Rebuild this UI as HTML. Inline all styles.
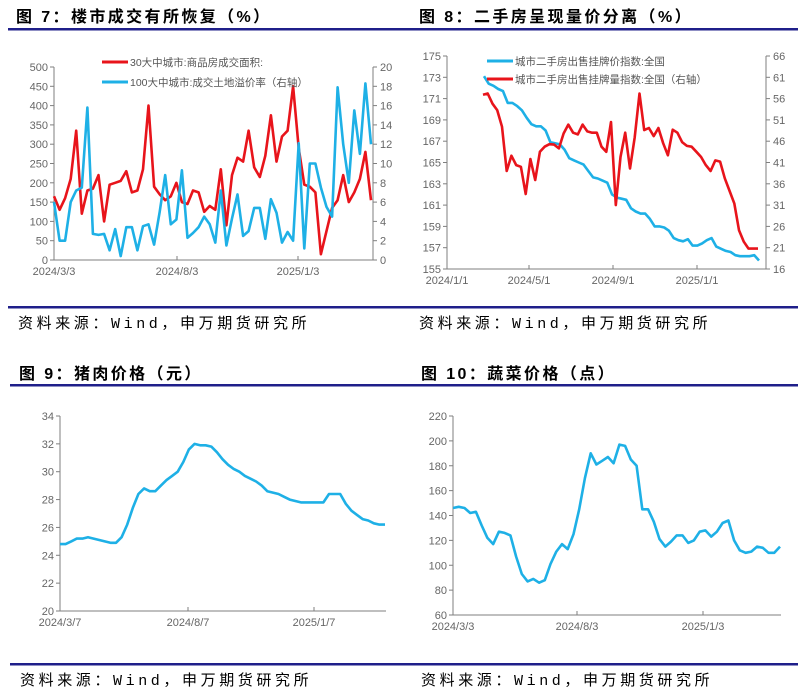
<!DOCTYPE html>
<html><head><meta charset="utf-8">
<style>
html,body{margin:0;padding:0;background:#fff;}
svg{display:block;}
.t{font-family:"Liberation Sans","Noto Sans CJK SC",sans-serif;font-weight:bold;font-size:16px;fill:#000;letter-spacing:2.4px;}
.s{font-family:"Liberation Mono","Noto Sans CJK SC",monospace;font-size:15px;fill:#000;letter-spacing:3.6px;}
.tk{font-family:"Liberation Sans",sans-serif;font-size:11px;fill:#666;}
.lg{font-family:"Liberation Sans","Noto Sans CJK SC",sans-serif;font-size:10.5px;fill:#555;}
</style></head>
<body>
<svg id="c" width="809" height="698" xmlns="http://www.w3.org/2000/svg">
<text class="t" x="16" y="22">图 7：楼市成交有所恢复（%）</text>
<text class="t" x="419" y="22">图 8：二手房呈现量价分离（%）</text>
<text class="t" x="19" y="379">图 9：猪肉价格（元）</text>
<text class="t" x="421" y="379">图 10：蔬菜价格（点）</text>
<rect x="8" y="28" width="397" height="2.5" fill="#1f1f8a"/>
<rect x="405" y="28" width="393" height="2.5" fill="#1f1f8a"/>
<rect x="10" y="384" width="395" height="2.5" fill="#1f1f8a"/>
<rect x="405" y="384" width="393" height="2.5" fill="#1f1f8a"/>
<rect x="8" y="306" width="397" height="2.5" fill="#1f1f8a"/>
<rect x="405" y="306" width="393" height="2.5" fill="#1f1f8a"/>
<rect x="10" y="663" width="395" height="2.5" fill="#1f1f8a"/>
<rect x="405" y="663" width="393" height="2.5" fill="#1f1f8a"/>
<text class="s" x="18" y="328">资料来源：Wind，申万期货研究所</text>
<text class="s" x="419" y="328">资料来源：Wind，申万期货研究所</text>
<text class="s" x="20" y="685">资料来源：Wind，申万期货研究所</text>
<text class="s" x="421" y="685">资料来源：Wind，申万期货研究所</text>
</svg>
<script>
// Fig 7 data
const f7Red = [165,130,160,210,335,120,180,185,220,100,195,200,205,230,175,180,235,400,190,170,155,165,200,150,145,180,175,125,140,130,235,90,220,265,255,335,240,215,270,375,255,320,335,450,290,195,190,175,15,75,135,155,220,150,175,210,280,155];
const f7Blue = [6,2,2,6,7.2,7.5,15.8,2.7,2.6,2.7,1,3.2,0.4,3.4,3.4,1,3.5,3.7,1.6,5,8.8,3.7,4.2,9.3,2.3,2.8,3.4,4.5,3.7,1.8,7.2,1.5,4.3,6.8,2.5,3,5.4,5.4,2.2,6.3,4.9,1.8,2.9,2,12.1,1.2,10,10,7.5,5.5,4.5,17.9,12,8,15.5,11,18.3,12];
const f7LeftTicks = [0,50,100,150,200,250,300,350,400,450,500];
const f7RightTicks = [0,2,4,6,8,10,12,14,16,18,20];
const f7Dates = ["2024/3/3","2024/8/3","2025/1/3"];
// Fig 8 data
const f8Blue = [173.1,172.4,172.2,171.9,171.7,170.6,170.6,170.3,169.9,169.2,168.6,168.4,168.4,168.0,166.9,166.8,166.7,166.2,165.4,165.2,165.0,164.8,164.2,163.6,163.5,163.3,163.1,162.0,161.7,161.6,161.5,160.7,160.4,160.2,160.2,159.7,159.0,159.0,158.9,158.6,157.9,157.7,157.6,157.8,157.2,157.2,157.4,157.7,157.9,157.1,156.9,156.7,156.6,156.3,156.2,156.2,156.2,156.3,155.8];
const f8Red = [56.9,57.2,54.8,53.3,49.4,39.0,42.6,40.4,40.0,33.6,41.8,36.9,43.5,44.7,45.3,45.2,44.3,47.8,49.9,48.0,47.6,49.9,48.3,48.0,48.0,44.7,43.5,50.5,31.0,42.3,48.0,39.6,46.9,57.2,48.6,49.1,47.2,49.1,45.5,42.7,48.7,48.0,45.8,44.9,44.7,43.5,42.3,40.4,39.0,41.5,41.2,37.3,34.3,31.4,25.1,22.4,20.8,20.8,20.8];
const f8LeftTicks = [155,157,159,161,163,165,167,169,171,173,175];
const f8RightTicks = [16,21,26,31,36,41,46,51,56,61,66];
const f8Dates = ["2024/1/1","2024/5/1","2024/9/1","2025/1/1"];
// Fig 9 data
const f9Pork = [24.8,24.8,25.0,25.2,25.2,25.3,25.2,25.1,25.0,24.9,24.9,25.3,26.2,27.4,28.4,28.8,28.6,28.6,29.0,29.4,29.7,30.0,30.7,31.6,32.0,31.9,31.9,31.8,31.4,30.9,30.5,30.2,30.0,29.7,29.5,29.3,29.0,28.6,28.5,28.4,28.2,28.0,27.9,27.8,27.8,27.8,27.8,27.8,28.4,28.4,28.4,27.7,27.2,26.9,26.6,26.5,26.3,26.2,26.2];
const f9Ticks = [20,22,24,26,28,30,32,34];
const f9Dates = ["2024/3/7","2024/8/7","2025/1/7"];
// Fig 10 data
const f10Veg = [146,147,146,142,143,132,122,117,127,126,124,107,93,87,89,86,88,101,111,117,113,125,145,170,190,181,184,187,182,197,196,185,180,145,145,135,121,115,119,124,124,118,120,127,128,123,127,134,136,120,112,110,111,115,114,110,110,115];
const f10Ticks = [60,80,100,120,140,160,180,200,220];
const f10Dates = ["2024/3/3","2024/8/3","2025/1/3"];

const svg = document.getElementById('c');
const NS = 'http://www.w3.org/2000/svg';
function mk(tag, attrs, parent){const e=document.createElementNS(NS,tag);for(const k in attrs)e.setAttribute(k,attrs[k]);(parent||svg).appendChild(e);return e;}
function scale(d0,d1,r0,r1){return v=>r0+(v-d0)/(d1-d0)*(r1-r0);}

function axisY(x, ticks, y, side, prefix){
  const g=mk('g',{});
  
  
  const top=y(ticks[ticks.length-1]), bot=y(ticks[0]);
  mk('line',{x1:x,y1:top,x2:x,y2:bot,stroke:'#7f7f7f','stroke-width':1},g);
  ticks.forEach(t=>{
    const yy=y(t);
    mk('line',{x1:side<0?x-4:x,y1:yy,x2:side<0?x:x+4,y2:yy,stroke:'#7f7f7f','stroke-width':1},g);
    const tx=mk('text',{x:side<0?x-6:x+7,y:yy+4,'text-anchor':side<0?'end':'start',class:'tk'},g);
    tx.textContent=t;
    
    
  });
}
function axisX(x0,x1,y0,ticksX,labels,prefix){
  const g=mk('g',{});
  
  
  mk('line',{x1:x0,y1:y0,x2:x1,y2:y0,stroke:'#7f7f7f','stroke-width':1},g);
  labels.forEach((l,i)=>{
    mk('line',{x1:ticksX[i],y1:y0,x2:ticksX[i],y2:y0-4,stroke:'#7f7f7f','stroke-width':1},g);
    const tx=mk('text',{x:ticksX[i],y:y0+15,'text-anchor':'middle',class:'tk'},g);
    tx.textContent=l;
    
    
  });
}
function line(vals,xs,xe,y,color,name){
  const x=scale(0,vals.length-1,xs,xe);
  const p=vals.map((v,i)=>(i?'L':'M')+x(i).toFixed(1)+','+y(v).toFixed(1)).join('');
  const e=mk('path',{d:p,fill:'none',stroke:color,'stroke-width':2.6,'stroke-linejoin':'round'});
  
  
}
function legend(x,y,color,text,name){
  const g=mk('g',{});
  
  
  mk('line',{x1:x,y1:y,x2:x+26,y2:y,stroke:color,'stroke-width':3},g);
  const t=mk('text',{x:x+28,y:y+4,class:'lg'},g);t.textContent=text;
}
const RED='#e8141b', BLUE='#1eb0e6';

// Fig 7
{
  const yL=scale(0,500,260,67), yR=scale(0,20,260,67);
  axisY(54,f7LeftTicks,yL,-1,'fig7-left');
  axisY(373,f7RightTicks,yR,1,'fig7-right');
  axisX(54,373,260,[54,177,298],f7Dates,'fig7');
  line(f7Red,54,371,yL,RED,'fig7-red-series');
  line(f7Blue,54,371,yR,BLUE,'fig7-blue-series');
  legend(102,62,RED,'30大中城市:商品房成交面积:','fig7-legend-red');
  legend(102,82,BLUE,'100大中城市:成交土地溢价率（右轴）','fig7-legend-blue');
}
// Fig 8
{
  const yL=scale(155,175,269,56), yR=scale(16,66,269,56);
  axisY(447,f8LeftTicks,yL,-1,'fig8-left');
  axisY(766,f8RightTicks,yR,1,'fig8-right');
  axisX(447,766,269,[447,529,613,697],f8Dates,'fig8');
  line(f8Blue,484,759,yL,BLUE,'fig8-blue-series');
  line(f8Red,483,758,yR,RED,'fig8-red-series');
  legend(487,61,BLUE,'城市二手房出售挂牌价指数:全国','fig8-legend-blue');
  legend(487,79,RED,'城市二手房出售挂牌量指数:全国（右轴）','fig8-legend-red');
}
// Fig 9
{
  const y=scale(20,34,611,416);
  axisY(60,f9Ticks,y,-1,'fig9-y');
  axisX(60,386,611,[60,188,314],f9Dates,'fig9');
  line(f9Pork,60,385,y,BLUE,'fig9-pork-series');
}
// Fig 10
{
  const y=scale(60,220,615,416);
  axisY(453,f10Ticks,y,-1,'fig10-y');
  axisX(453,781,615,[453,577,703],f10Dates,'fig10');
  line(f10Veg,453,780,y,BLUE,'fig10-veg-series');
}
</script>
</body></html>
